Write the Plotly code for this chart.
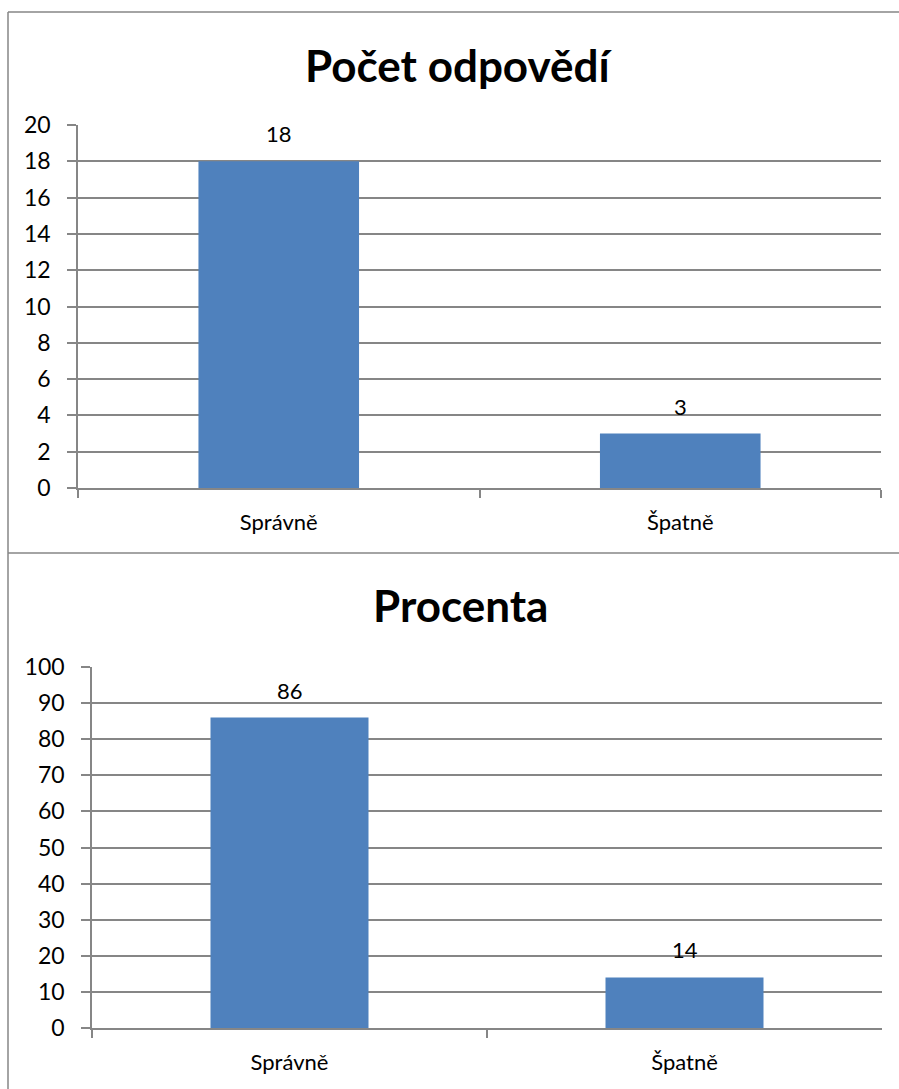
import plotly.graph_objects as go

categories = ["Správně", "Špatně"]
counts = [18, 3]
percents = [86, 14]
titles = ["Počet odpovědí", "Procenta"]

W, H = 899, 1089
FONT = "Lato"
BAR = "#4F81BD"
GRID = "#868686"

def px(x):
    return x / W

def py(y):
    return 1 - y / H

fig = go.Figure()
fig.add_trace(go.Bar(x=categories, y=counts,
                     marker=dict(color=BAR, line=dict(width=0)), width=0.4,
                     xaxis="x", yaxis="y", hoverinfo="x+y"))
fig.add_trace(go.Bar(x=categories, y=percents,
                     marker=dict(color=BAR, line=dict(width=0)), width=0.4,
                     xaxis="x2", yaxis="y2", hoverinfo="x+y"))

for xr, yr, vals in (("x", "y", counts), ("x2", "y2", percents)):
    for c, v in zip(categories, vals):
        fig.add_annotation(x=c, y=v, xref=xr, yref=yr, text=str(v), showarrow=False,
                           yanchor="bottom", xanchor="center", yshift=12,
                           font=dict(size=22, family=FONT, color="black"))

xcommon = dict(type="category", showgrid=False, showline=True, linecolor=GRID, linewidth=1.5,
               ticks="outside", tickson="boundaries", ticklen=8, tickcolor=GRID, tickwidth=1.5,
               tickfont=dict(size=22, family=FONT, color="black"), ticklabelstandoff=14,
               range=[-0.5, 1.5], fixedrange=True, automargin=False)
ycommon = dict(showgrid=True, gridcolor=GRID, gridwidth=1.5, showline=True, linecolor=GRID,
               linewidth=1.5, ticks="outside", ticklen=9, tickcolor=GRID, tickwidth=1.5,
               tickfont=dict(size=23, family=FONT, color="black"), ticklabelstandoff=12,
               zeroline=False, fixedrange=True, automargin=False)

fig.update_layout(
    width=W, height=H, margin=dict(l=0, r=0, t=0, b=0, pad=0, autoexpand=False),
    paper_bgcolor="white", plot_bgcolor="white", showlegend=False,
    font=dict(family=FONT, color="black"),
    xaxis=dict(domain=[px(78), px(881)], anchor="y", **xcommon),
    yaxis=dict(domain=[py(488), py(125)], anchor="x", range=[0, 20], dtick=2, **ycommon),
    xaxis2=dict(domain=[px(92), px(882)], anchor="y2", **xcommon),
    yaxis2=dict(domain=[py(1028), py(667)], anchor="x2", range=[0, 100], dtick=10, **ycommon),
)

border = dict(color=GRID, width=1.5)
fig.add_shape(type="line", xref="paper", yref="paper", x0=px(8), x1=1, y0=py(12), y1=py(12), line=border)
fig.add_shape(type="line", xref="paper", yref="paper", x0=px(8), x1=px(8), y0=0, y1=py(12), line=border)
fig.add_shape(type="line", xref="paper", yref="paper", x0=px(8), x1=1, y0=py(553), y1=py(553), line=border)

fig.add_annotation(text="<b>" + titles[0] + "</b>", xref="paper", yref="paper", x=px(458), y=py(65),
                   showarrow=False, font=dict(size=44, family=FONT, color="black"),
                   xanchor="center", yanchor="middle")
fig.add_annotation(text="<b>" + titles[1] + "</b>", xref="paper", yref="paper", x=px(460), y=py(605),
                   showarrow=False, font=dict(size=44, family=FONT, color="black"),
                   xanchor="center", yanchor="middle")

fig.write_html("out.html", config={"displayModeBar": False},
               post_script="document.body.style.margin='0';document.body.style.overflow='hidden';")
